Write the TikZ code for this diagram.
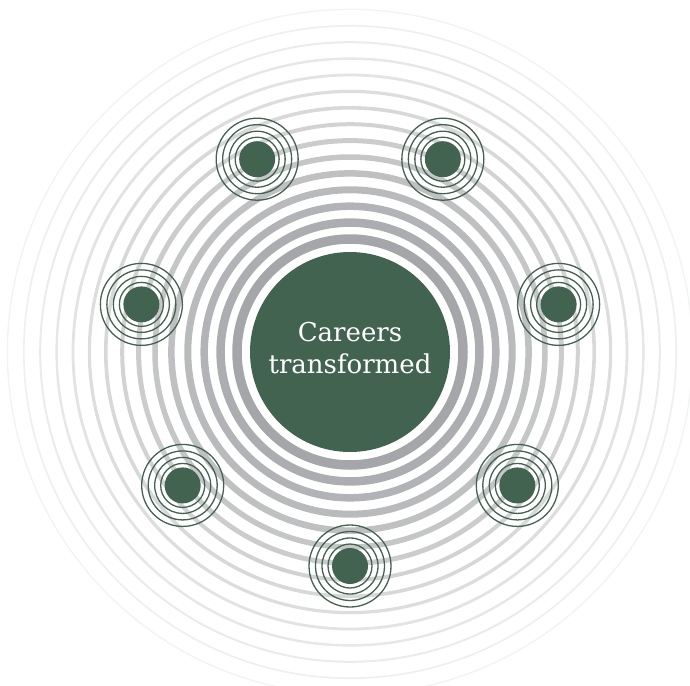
\documentclass[tikz,border=0pt]{standalone}
\usepackage{fontspec}
\newfontfamily\labelfont{DejaVu Serif}
\definecolor{deepgreen}{HTML}{42634F}
\definecolor{ringgray}{HTML}{A5A6A9}
\tikzset{
  core/.style={circle, fill=deepgreen, minimum size=200pt, inner sep=0pt},
  corelabel/.style={text=white, align=center, inner sep=0pt,
    font=\labelfont\fontsize{26}{32}\selectfont},
  dotnode/.style={circle, fill=deepgreen, minimum size=36pt, inner sep=0pt},
  greenring/.style={draw=deepgreen, line width=1.3pt}
}
\begin{document}
\begin{tikzpicture}[x=1pt,y=-1pt]
\useasboundingbox (0,0) rectangle (690,685);
\coordinate (c) at (350,352);
% background ripples
\foreach \r/\w/\p in {113/9.5/100, 129.4/8.5/92, 145.8/7.5/85, 162.2/7/78, 178.6/6.5/71, 195/5.5/64, 211.4/5/57,
  227.8/4/50, 244.2/3.6/44, 260.6/3.2/38, 277/2.8/32, 293.4/2.4/27, 309.8/2/22, 326.2/1.7/18, 342.6/1.4/14} {
  \draw[line width=\w pt, color=ringgray!\p!white] (c) circle[radius=\r pt];
}
% centre
\node[core] (centre) at (c) {};
\node[corelabel] (caption) at ([yshift=4pt]centre.center) {Careers\\transformed};
% satellites
\foreach \k in {0,...,6} {
  \pgfmathsetmacro\ang{-90+\k*360/7}
  \node[dotnode] (n\k) at ([shift={(\ang:214pt)}]c) {};
  \foreach \rr in {22,28,34.5,41} {
    \draw[greenring] (n\k.center) circle[radius=\rr pt];
  }
}
\end{tikzpicture}
\end{document}
